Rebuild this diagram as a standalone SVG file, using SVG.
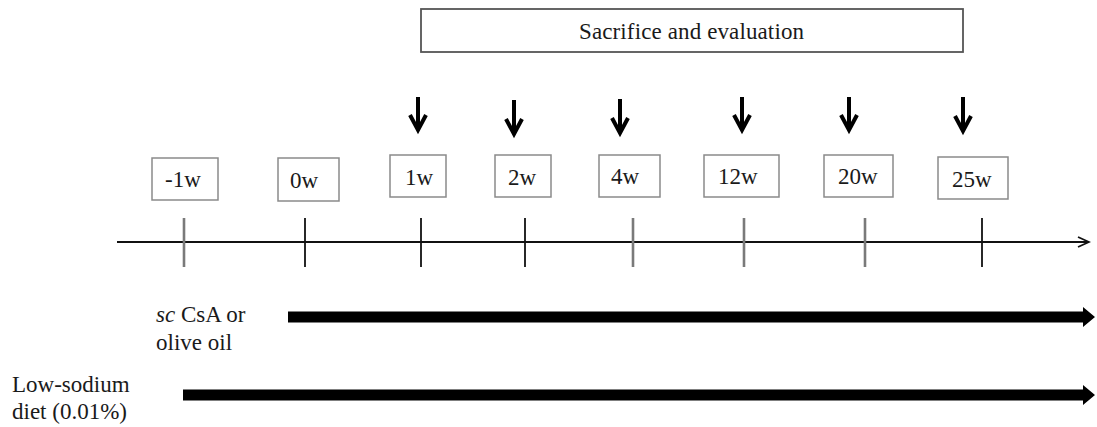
<svg xmlns="http://www.w3.org/2000/svg" width="1097" height="427" viewBox="0 0 1097 427">
<style>
text{font-family:"Liberation Serif","Times New Roman",serif;font-size:23px;fill:#1a1a1a}
.wk{fill:#fff;stroke:#8a8a8a;stroke-width:1.5}
.tk{stroke:#111;stroke-width:1.8}
.tg{stroke:#7a7a7a;stroke-width:2.6}
.dn{stroke:#000;stroke-width:4;fill:none}
</style>
<defs>
<marker id="open" markerWidth="14" markerHeight="12" refX="12" refY="6" orient="auto" markerUnits="userSpaceOnUse">
<path d="M1,1 L12,6 L1,11" fill="none" stroke="#111" stroke-width="1.8"/>
</marker>
</defs>
<g id="sacrifice">
<rect x="421" y="9" width="542" height="43" fill="#fff" stroke="#555" stroke-width="1.8"/>
<text x="579" y="39" textLength="225" lengthAdjust="spacing">Sacrifice and evaluation</text>
</g>
<g id="w-1"><rect class="wk" x="152" y="158" width="66" height="42"/><text x="165" y="187">-1w</text></g>
<g id="w0"><rect class="wk" x="278" y="158" width="61" height="43"/><text x="290" y="188">0w</text></g>
<g id="w1"><rect class="wk" x="390" y="155" width="56" height="42"/><text x="405" y="185">1w</text></g>
<g id="w2"><rect class="wk" x="495" y="155" width="56" height="42"/><text x="508" y="185">2w</text></g>
<g id="w4"><rect class="wk" x="599" y="155" width="61" height="42"/><text x="611" y="184">4w</text></g>
<g id="w12"><rect class="wk" x="704" y="155" width="75" height="42"/><text x="718" y="184">12w</text></g>
<g id="w20"><rect class="wk" x="824" y="155" width="69" height="42"/><text x="838" y="184">20w</text></g>
<g id="w25"><rect class="wk" x="938" y="157" width="70" height="42"/><text x="952" y="187">25w</text></g>
<g id="labels">
<text x="156" y="322"><tspan font-style="italic">sc</tspan> CsA or</text>
<text x="156" y="350">olive oil</text>
<text x="12" y="392">Low-sodium</text>
<text x="12" y="419">diet (0.01%)</text>
</g>
<g id="connectors">
<line x1="117" y1="242" x2="1089" y2="242" stroke="#111" stroke-width="1.8" marker-end="url(#open)"/>
<line class="tg" x1="184" y1="218" x2="184" y2="267"/>
<line class="tk" x1="305" y1="218" x2="305" y2="267"/>
<line class="tk" x1="421" y1="218" x2="421" y2="267"/>
<line class="tk" x1="525" y1="218" x2="525" y2="267"/>
<line class="tg" x1="633" y1="218" x2="633" y2="267"/>
<line class="tg" x1="744" y1="218" x2="744" y2="267"/>
<line class="tg" x1="865" y1="218" x2="865" y2="267"/>
<line class="tk" x1="982" y1="218" x2="982" y2="267"/>
<g class="dn">
<path d="M418,97 V130 M410,115 L418,130 L426,115"/>
<path d="M514,100 V134 M506,119 L514,134 L522,119"/>
<path d="M620,99 V133 M612,118 L620,133 L628,118"/>
<path d="M742,97 V130 M734,115 L742,130 L750,115"/>
<path d="M849,97 V130 M841,115 L849,130 L857,115"/>
<path d="M963,97 V131 M955,116 L963,131 L971,116"/>
</g>
<path d="M288,311.5 H1083 V307 L1095,317 L1083,327 V322.5 H288 Z" fill="#000"/>
<path d="M183,389.5 H1083 V385 L1095,395 L1083,405 V400.5 H183 Z" fill="#000"/>
</g>
</svg>
